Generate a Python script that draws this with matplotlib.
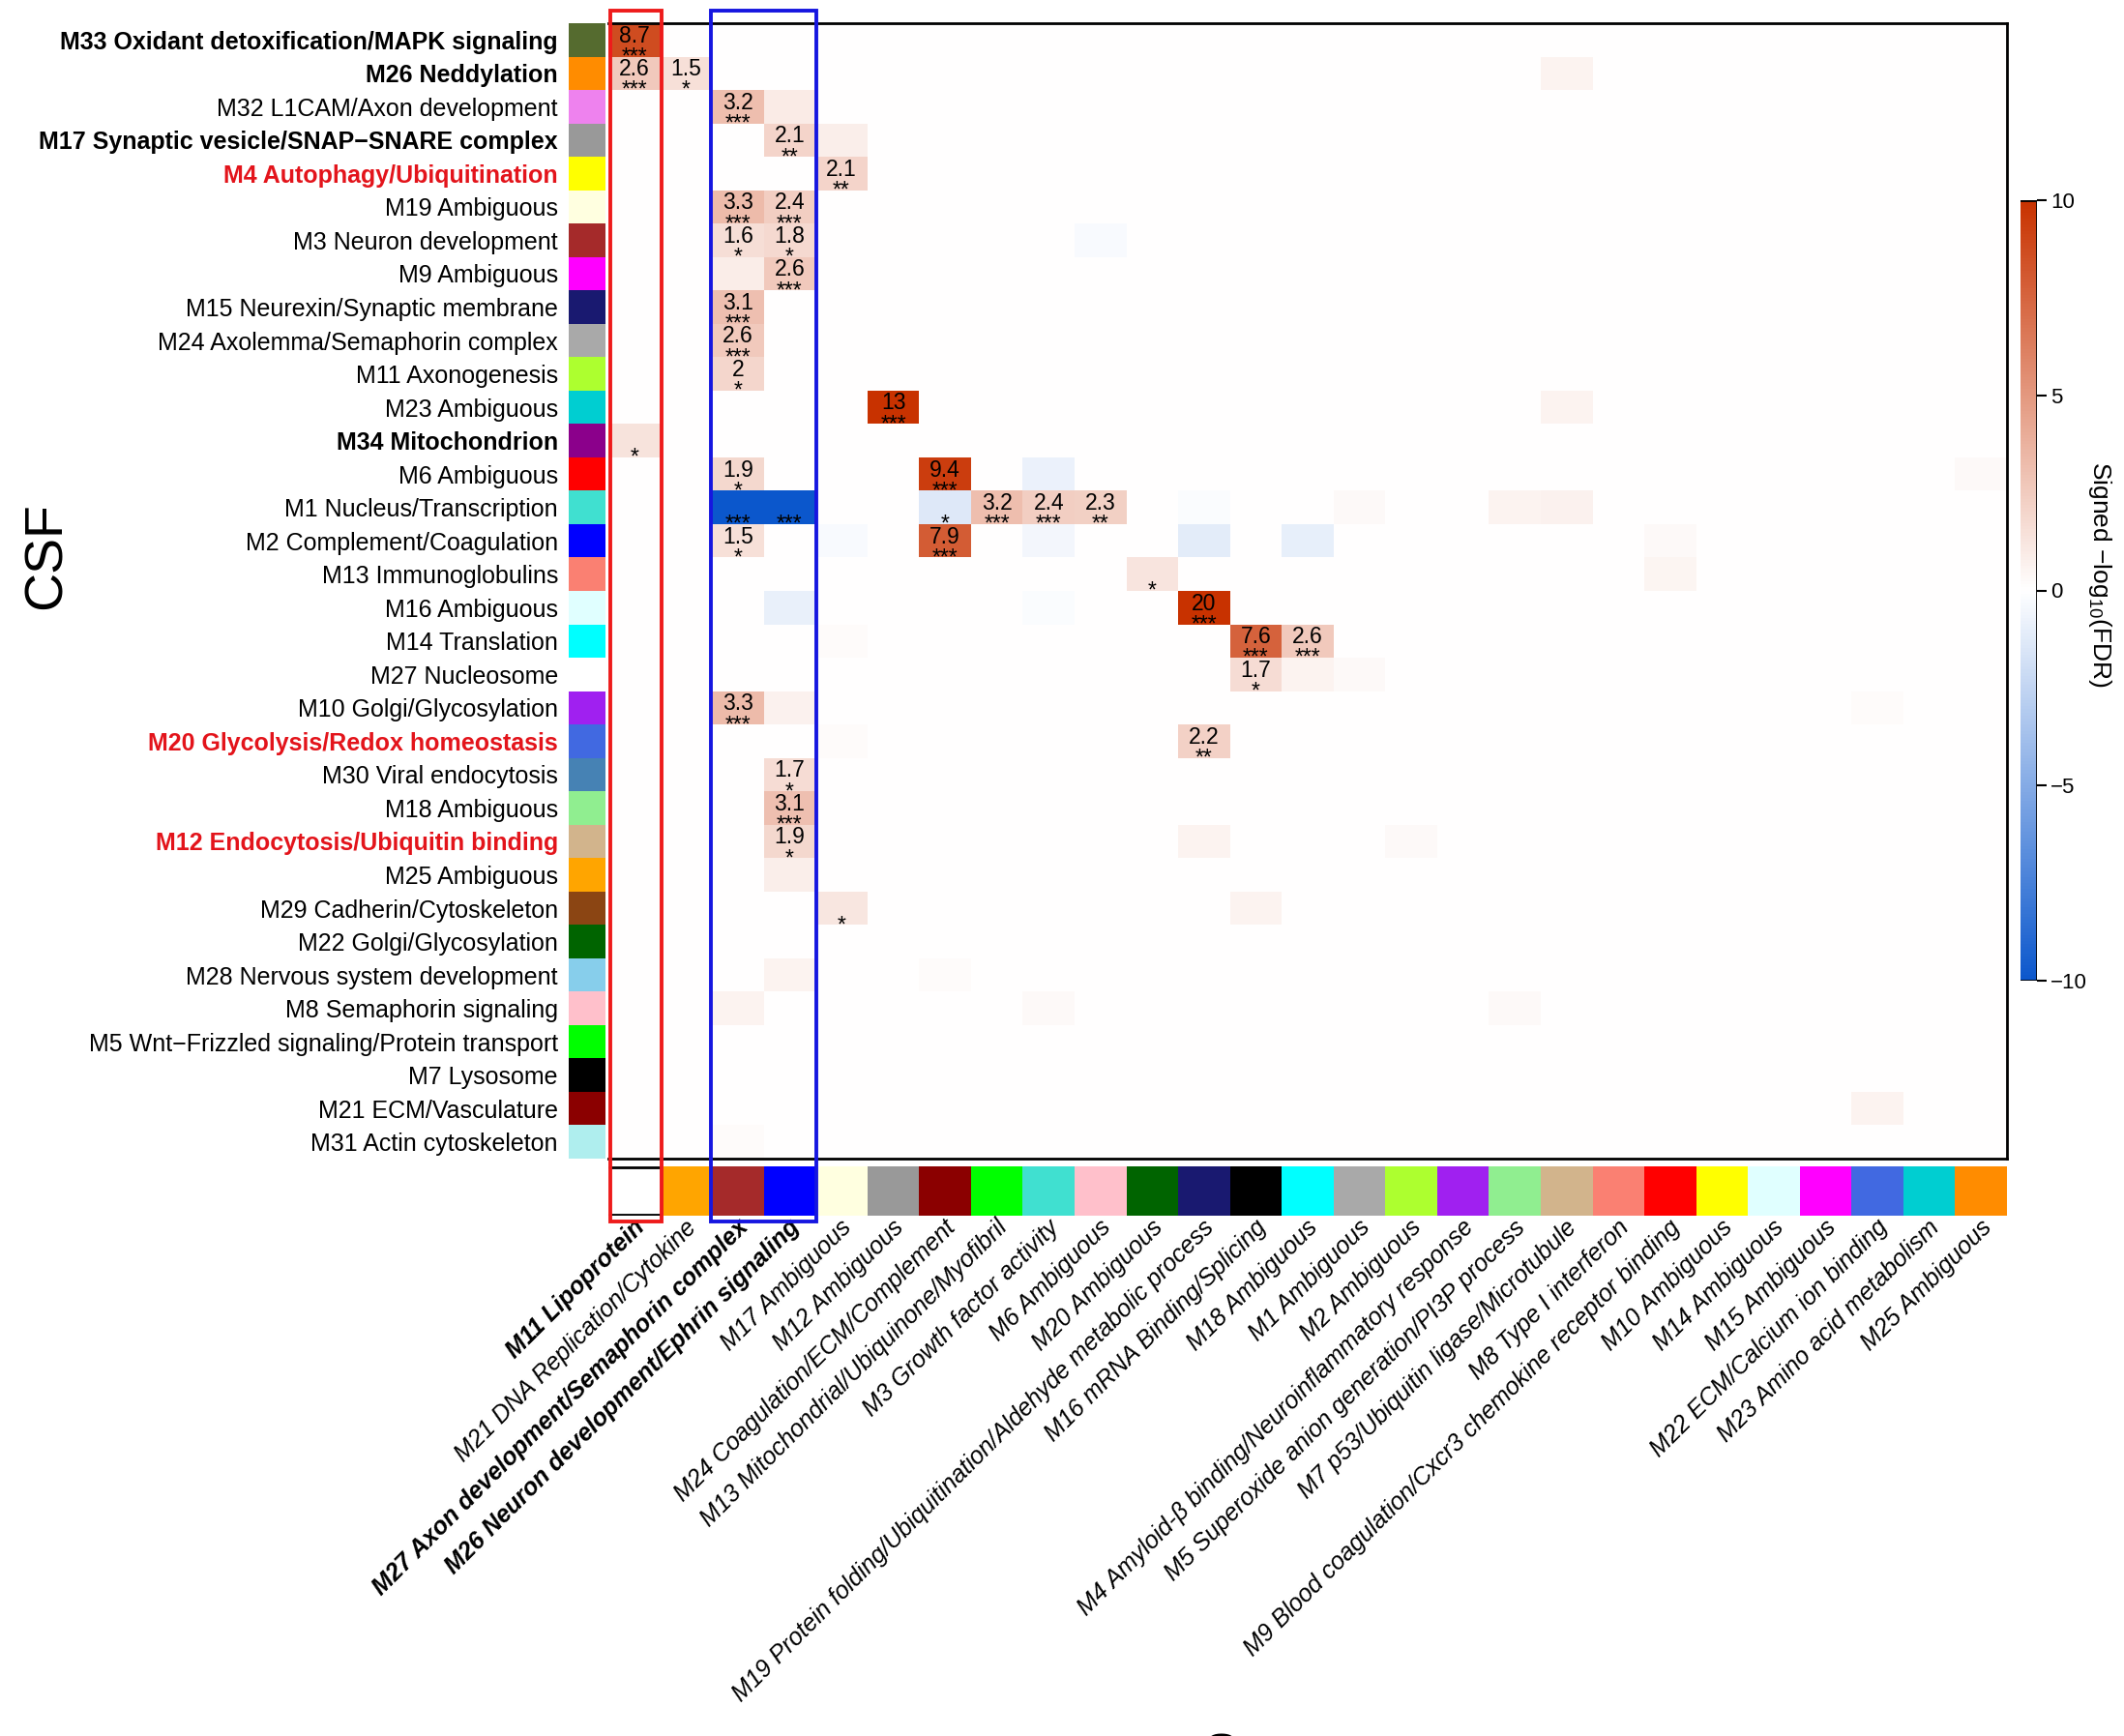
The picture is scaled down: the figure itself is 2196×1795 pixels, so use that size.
import numpy as np
import matplotlib
matplotlib.use("Agg")
import matplotlib.pyplot as plt
from matplotlib.colors import LinearSegmentedColormap, Normalize
from matplotlib.patches import Rectangle
from matplotlib.transforms import offset_copy

plt.rcParams['font.family'] = ['Liberation Sans', 'DejaVu Sans']
plt.rcParams['mathtext.fontset'] = 'custom'
plt.rcParams['mathtext.rm'] = 'Liberation Sans'

# CSF modules (rows)
row_labels = [
    "M33 Oxidant detoxification/MAPK signaling", "M26 Neddylation",
    "M32 L1CAM/Axon development", "M17 Synaptic vesicle/SNAP\u2212SNARE complex",
    "M4 Autophagy/Ubiquitination", "M19 Ambiguous", "M3 Neuron development",
    "M9 Ambiguous", "M15 Neurexin/Synaptic membrane",
    "M24 Axolemma/Semaphorin complex", "M11 Axonogenesis", "M23 Ambiguous",
    "M34 Mitochondrion", "M6 Ambiguous", "M1 Nucleus/Transcription",
    "M2 Complement/Coagulation", "M13 Immunoglobulins", "M16 Ambiguous",
    "M14 Translation", "M27 Nucleosome", "M10 Golgi/Glycosylation",
    "M20 Glycolysis/Redox homeostasis", "M30 Viral endocytosis",
    "M18 Ambiguous", "M12 Endocytosis/Ubiquitin binding", "M25 Ambiguous",
    "M29 Cadherin/Cytoskeleton", "M22 Golgi/Glycosylation",
    "M28 Nervous system development", "M8 Semaphorin signaling",
    "M5 Wnt\u2212Frizzled signaling/Protein transport", "M7 Lysosome",
    "M21 ECM/Vasculature", "M31 Actin cytoskeleton",
]
row_colors = [
    "darkolivegreen", "darkorange", "violet", "#999999", "yellow",
    "lightyellow", "brown", "magenta", "midnightblue", "darkgrey",
    "greenyellow", "darkturquoise", "darkmagenta", "red", "turquoise",
    "blue", "salmon", "lightcyan", "cyan", "white", "#A020F0", "royalblue",
    "steelblue", "lightgreen", "tan", "orange", "saddlebrown", "darkgreen",
    "skyblue", "pink", "lime", "black", "darkred", "paleturquoise",
]
row_bold = [0, 1, 3, 4, 12, 21, 24]
row_red = [4, 21, 24]

# Serum modules (columns)
col_labels = [
    "M11 Lipoprotein", "M21 DNA Replication/Cytokine",
    "M27 Axon development/Semaphorin complex",
    "M26 Neuron development/Ephrin signaling", "M17 Ambiguous",
    "M12 Ambiguous", "M24 Coagulation/ECM/Complement",
    "M13 Mitochondrial/Ubiquinone/Myofibril", "M3 Growth factor activity",
    "M6 Ambiguous", "M20 Ambiguous",
    "M19 Protein folding/Ubiquitination/Aldehyde metabolic process",
    "M16 mRNA Binding/Splicing", "M18 Ambiguous", "M1 Ambiguous",
    "M2 Ambiguous", "M4 Amyloid-\u03b2 binding/Neuroinflammatory response",
    "M5 Superoxide anion generation/PI3P process",
    "M7 p53/Ubiquitin ligase/Microtubule", "M8 Type I interferon",
    "M9 Blood coagulation/Cxcr3 chemokine receptor binding",
    "M10 Ambiguous", "M14 Ambiguous", "M15 Ambiguous",
    "M22 ECM/Calcium ion binding", "M23 Amino acid metabolism",
    "M25 Ambiguous",
]
col_colors = [
    "white", "orange", "brown", "blue", "lightyellow", "#999999", "darkred",
    "lime", "turquoise", "pink", "darkgreen", "midnightblue", "black", "cyan",
    "darkgrey", "greenyellow", "#A020F0", "lightgreen", "tan", "salmon", "red",
    "yellow", "lightcyan", "magenta", "royalblue", "darkturquoise",
    "darkorange",
]
col_bold = [0, 2, 3]

# non-zero cells: row, column, signed -log10(FDR), shown number, stars
cell_row = [0, 1, 1, 1, 2, 2, 3, 3, 4, 5, 5, 6, 6, 6, 7, 7, 8, 9, 10, 11, 11,
            12, 13, 13, 13, 13, 14, 14, 14, 14, 14, 14, 14, 14, 14, 14,
            15, 15, 15, 15, 15, 15, 15, 16, 16, 17, 17, 17, 18, 18, 18,
            19, 19, 19, 20, 20, 20, 21, 21, 22, 23, 24, 24, 24, 25, 26, 26,
            28, 28, 29, 29, 29, 32, 33]
cell_col = [0, 0, 1, 18, 2, 3, 3, 4, 4, 2, 3, 2, 3, 9, 2, 3, 2, 2, 2, 5, 18,
            0, 2, 6, 8, 26, 2, 3, 6, 7, 8, 9, 11, 14, 17, 18,
            2, 4, 6, 8, 11, 13, 20, 10, 20, 3, 8, 11, 4, 12, 13,
            12, 13, 14, 2, 3, 24, 4, 11, 3, 3, 3, 11, 15, 3, 4, 12,
            3, 6, 2, 8, 17, 24, 2]
cell_value = [8.7, 2.6, 1.5, 0.6, 3.2, 1.0, 2.1, 0.8, 2.1, 3.3, 2.4, 1.6, 1.8,
              -0.3, 0.9, 2.6, 3.1, 2.6, 2.0, 13, 0.6,
              1.4, 1.9, 9.4, -0.8, 0.3, -11, -11, -1.4, 3.2, 2.4, 2.3, -0.2,
              0.3, 0.6, 0.7,
              1.5, -0.3, 7.9, -0.5, -1.1, -1.0, 0.3, 1.3, 0.5, -0.9, -0.2, 20,
              0.2, 7.6, 2.6,
              1.7, 0.6, 0.3, 3.3, 0.7, 0.2, 0.2, 2.2, 1.7, 3.1, 1.9, 0.6, 0.3,
              0.8, 1.2, 0.6,
              0.6, 0.2, 0.6, 0.3, 0.3, 0.6, 0.2]
cell_text = ["8.7", "2.6", "1.5", "", "3.2", "", "2.1", "", "2.1", "3.3",
             "2.4", "1.6", "1.8", "", "", "2.6", "3.1", "2.6", "2", "13", "",
             "", "1.9", "9.4", "", "", "", "", "", "3.2", "2.4", "2.3", "",
             "", "", "",
             "1.5", "", "7.9", "", "", "", "", "", "", "", "", "20",
             "", "7.6", "2.6",
             "1.7", "", "", "3.3", "", "", "", "2.2", "1.7", "3.1", "1.9", "",
             "", "", "", "",
             "", "", "", "", "", "", ""]
cell_stars = ["***", "***", "*", "", "***", "", "**", "", "**", "***", "***",
              "*", "*", "", "", "***", "***", "***", "*", "***", "",
              "*", "*", "***", "", "", "***", "***", "*", "***", "***", "**",
              "", "", "", "",
              "*", "", "***", "", "", "", "", "*", "", "", "", "***",
              "", "***", "***",
              "*", "", "", "***", "", "", "", "**", "*", "***", "*", "", "",
              "", "*", "",
              "", "", "", "", "", "", ""]

n_rows = len(row_labels)
n_cols = len(col_labels)
data = np.zeros((n_rows, n_cols))
data[cell_row, cell_col] = cell_value

cmap = LinearSegmentedColormap.from_list("bwr_sig", ["#0B57CC", "#FFFFFF", "#C83200"])
norm = Normalize(vmin=-10, vmax=10)

W, H = 2196, 1795
fig = plt.figure(figsize=(W / 100, H / 100), dpi=100)

def fig_box(x0, y0, x1, y1):
    return [x0 / W, 1 - y1 / H, (x1 - x0) / W, (y1 - y0) / H]

ax = fig.add_axes(fig_box(629, 24, 2075, 1198))
ax_row = fig.add_axes(fig_box(588, 24, 626, 1198))
ax_col = fig.add_axes(fig_box(629, 1206, 2075, 1257))
cax = fig.add_axes(fig_box(2089, 207, 2106, 1014))

# heatmap
mesh = ax.pcolormesh(np.arange(n_cols + 1), np.arange(n_rows + 1), data,
                     cmap=cmap, norm=norm)
ax.set_xlim(0, n_cols)
ax.set_ylim(n_rows, 0)
ax.set_xticks([])
ax.set_yticks([])
for sp in ax.spines.values():
    sp.set_linewidth(2)
ax.spines['left'].set_visible(False)

for r, c, txt, st in zip(cell_row, cell_col, cell_text, cell_stars):
    if txt:
        ax.text(c + 0.5, r + 0.38, txt, ha='center', va='center', fontsize=16.5)
    if st:
        ax.text(c + 0.5, r + 1.20, st, ha='center', va='baseline', fontsize=16.5)

# row colour strip + labels
ax_row.barh(np.arange(n_rows) + 0.5, 1, height=1, color=row_colors)
ax_row.set_xlim(0, 1)
ax_row.set_ylim(n_rows, 0)
ax_row.set_xticks([])
ax_row.set_yticks(np.arange(n_rows) + 0.5)
ax_row.set_yticklabels(row_labels, fontsize=18)
ax_row.tick_params(axis='y', length=0, pad=8)
for sp in ax_row.spines.values():
    sp.set_visible(False)
for i, lab in enumerate(ax_row.get_yticklabels()):
    if i in row_bold:
        lab.set_fontweight('bold')
    if i in row_red:
        lab.set_color('#E3141B')

# column colour strip + labels
ax_col.bar(np.arange(n_cols) + 0.5, 1, width=1, color=col_colors)
ax_col.hlines([0.01, 0.99], 0, 1, colors='black', lw=2)
ax_col.set_xlim(0, n_cols)
ax_col.set_ylim(0, 1)
ax_col.set_xticks([])
ax_col.set_yticks([])
for sp in ax_col.spines.values():
    sp.set_visible(False)
lab_trans = offset_copy(ax_col.transData, fig=fig, x=5, y=-6, units='points')
for i, lab in enumerate(col_labels):
    ax_col.text(i + 0.5, 0, lab, transform=lab_trans, rotation=45,
                rotation_mode='anchor', ha='right', va='center', fontsize=18,
                style='italic', fontweight='bold' if i in col_bold else 'normal')

# highlight boxes
fig.add_artist(Rectangle((0.03, -0.38), 1.0, 36.26, fill=False, ec='#EE1B1B',
                         lw=2.8, transform=ax.transData, zorder=10))
fig.add_artist(Rectangle((1.98, -0.38), 2.04, 36.26, fill=False, ec='#1616E0',
                         lw=2.8, transform=ax.transData, zorder=10))

# colour bar
cbar = fig.colorbar(mesh, cax=cax, ticks=[-10, -5, 0, 5, 10])
cbar.outline.set_visible(False)
cax.axvline(1, color='black', lw=2)
cax.axhline(10, color='black', lw=2)
cax.axhline(-10, color='black', lw=2)
cax.tick_params(direction='out', length=7, width=1.5, labelsize=16, pad=3)
cax.text(4.8, 0.52, "Signed \u2212log$_{10}$(FDR)", rotation=270, ha='center',
         va='center', fontsize=19, transform=cax.transAxes)

# axis titles
fig.text(49 / W, 1 - 575 / H, "CSF", rotation=90, ha='center', va='center',
         fontsize=40)
fig.text(1325 / W, 1 - 1791 / H, "Serum", ha='center', va='top', fontsize=40)

fig.savefig("out.png", dpi=100)
